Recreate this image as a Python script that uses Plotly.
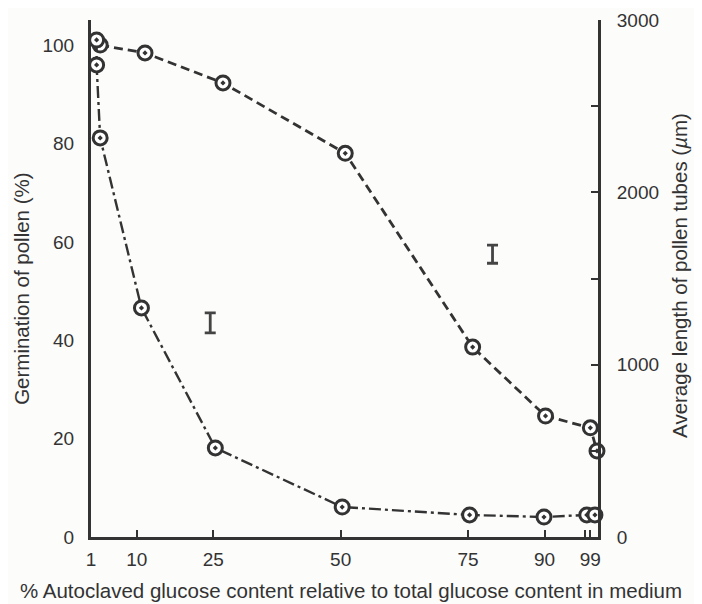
import plotly.graph_objects as go

# --- data ---
germ_x = [2.8, 11.6, 26.9, 50.9, 75.9, 90.2, 99.0, 100.3]
germ_y = [100.0, 98.4, 92.3, 78.0, 38.6, 24.6, 22.2, 17.5]

tube_x = [2.1, 2.1, 2.8, 10.9, 25.4, 50.3, 75.3, 89.9, 98.3, 99.9]
tube_y = [2884, 2739, 2316, 1329, 517, 174, 128, 116, 128, 128]

err_germ_x = [79.8]
err_germ_y = [57.5]
err_germ_e = [1.85]

err_tube_x = [24.4]
err_tube_y = [1242]
err_tube_e = [58]

x_tickvals = [1, 10, 25, 50, 75, 90, 98, 99]
x_ticktext = ["1", "10", "25", "50", "75", "90", "", "99"]
y1_tickvals = [0, 20, 40, 60, 80, 100]
y2_tickvals = [0, 500, 1000, 1500, 2000, 2500, 3000]
y2_ticktext = ["0", "", "1000", "", "2000", "", "3000"]

INK = "#333333"
FONT = "Liberation Sans, Arial, Helvetica, sans-serif"

fig = go.Figure()

fig.add_trace(go.Scatter(
    x=germ_x, y=germ_y, mode="lines+markers", yaxis="y",
    line=dict(color=INK, width=2.8, dash="9px,5px"),
    marker=dict(symbol="circle-dot", size=14, color="white",
                line=dict(color=INK, width=3)),
    showlegend=False, cliponaxis=False))

fig.add_trace(go.Scatter(
    x=tube_x, y=tube_y, mode="lines+markers", yaxis="y2",
    line=dict(color=INK, width=2.4, dash="12px,4px,3px,4px"),
    marker=dict(symbol="circle-dot", size=14, color="white",
                line=dict(color=INK, width=3)),
    showlegend=False, cliponaxis=False))

fig.add_trace(go.Scatter(
    x=err_germ_x, y=err_germ_y, mode="markers", yaxis="y",
    marker=dict(size=1, color="rgba(0,0,0,0)"),
    error_y=dict(type="data", array=err_germ_e, color="#444444",
                 thickness=2.8, width=5.5),
    showlegend=False))

fig.add_trace(go.Scatter(
    x=err_tube_x, y=err_tube_y, mode="markers", yaxis="y2",
    marker=dict(size=1, color="rgba(0,0,0,0)"),
    error_y=dict(type="data", array=err_tube_e, color="#444444",
                 thickness=2.8, width=5.5),
    showlegend=False))

# page body has an 8px margin, so the figure is offset by 8px
fig.update_layout(
    width=694, height=596,
    margin=dict(l=83, r=104, t=12, b=67, autoexpand=False),
    paper_bgcolor="#fcfcfb", plot_bgcolor="#fcfcfb",
    font=dict(family=FONT, size=19, color=INK),
    xaxis=dict(range=[1, 100.5], tickvals=x_tickvals, ticktext=x_ticktext,
               ticks="inside", ticklen=7, tickwidth=2, tickcolor=INK,
               showline=True, linewidth=3, linecolor=INK, automargin=False,
               showgrid=False, zeroline=False, ticklabelstandoff=3),
    yaxis=dict(range=[0, 105.1], tickvals=y1_tickvals,
               ticks="", showline=True, linewidth=3, linecolor=INK,
               automargin=False,
               showgrid=False, zeroline=False, ticklabelstandoff=10),
    yaxis2=dict(range=[0, 3000], overlaying="y", side="right",
                tickvals=y2_tickvals, ticktext=y2_ticktext,
                ticks="inside", ticklen=7, tickwidth=2, tickcolor=INK,
                showline=True, linewidth=3, linecolor=INK, automargin=False,
                showgrid=False, zeroline=False, ticklabelstandoff=12),
    annotations=[
        dict(text="Germination of pollen (%)", xref="paper", yref="paper",
             x=0, y=0.48, xshift=-69, textangle=-90, showarrow=False,
             xanchor="center", yanchor="middle", font=dict(size=20.5)),
        dict(text="Average length of pollen tubes (<i>\u00b5</i>m)",
             xref="paper", yref="paper", x=1, y=0.505, xshift=82,
             textangle=-90, showarrow=False, xanchor="center",
             yanchor="middle", font=dict(size=20.5)),
        dict(text="% Autoclaved glucose content relative to total glucose content in medium",
             xref="paper", yref="paper", x=0.513, y=0, yshift=-53,
             showarrow=False, xanchor="center", yanchor="middle",
             font=dict(size=20.5)),
    ],
)

fig.write_html("out.html")
